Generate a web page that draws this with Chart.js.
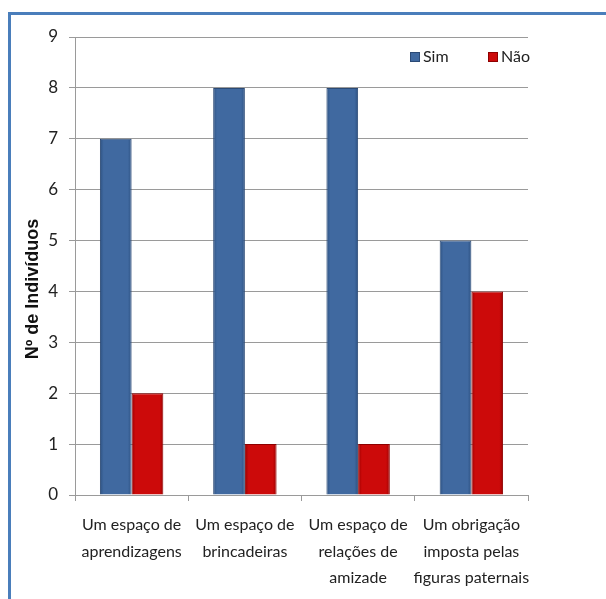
<!DOCTYPE html>
<html>
<head>
<meta charset="utf-8">
<script src="https://cdn.jsdelivr.net/npm/chart.js@4/dist/chart.umd.min.js"></script>
<style>
  html, body { margin: 0; padding: 0; background: #ffffff; }
  #wrap { width: 606px; height: 599px; }
</style>
</head>
<body>
<div id="wrap"><canvas id="c" width="606" height="599"></canvas></div>
<script>
const categories = [
  ["Um espaço de", "aprendizagens"],
  ["Um espaço de", "brincadeiras"],
  ["Um espaço de", "relações de", "amizade"],
  ["Um obrigação", "imposta pelas", "figuras paternais"]
];
const simValues = [7, 8, 8, 5];
const naoValues = [2, 1, 1, 4];
const yTicks = [0, 1, 2, 3, 4, 5, 6, 7, 8, 9];
const yTitle = 'Nº de Indivíduos';

const FONT = "Lato, 'Open Sans', sans-serif";
const CAT_PCT = 0.56;

// Horizontal shading across each bar: darker edges, lighter middle
function barShade(edge, mid) {
  return function (context) {
    const chart = context.chart;
    const xScale = chart.scales.x;
    if (!chart.chartArea || !xScale || context.dataIndex === undefined) return mid;
    const catW = (xScale.right - xScale.left) / chart.data.labels.length;
    const w = catW * CAT_PCT / 2;
    const center = xScale.getPixelForValue(context.dataIndex);
    const left = context.datasetIndex === 0 ? center - w : center;
    const g = chart.ctx.createLinearGradient(left, 0, left + w, 0);
    g.addColorStop(0, edge);
    g.addColorStop(0.12, mid);
    g.addColorStop(0.88, mid);
    g.addColorStop(1, edge);
    return g;
  };
}

// Blue frame along the top and left edges of the canvas
const framePlugin = {
  id: 'frame',
  beforeDraw(chart) {
    const ctx = chart.ctx;
    ctx.save();
    ctx.fillStyle = '#4a7ebb';
    ctx.fillRect(8, 12, chart.width - 8, 3);
    ctx.fillRect(8, 12, 3, chart.height - 12);
    ctx.restore();
  }
};

// Vertical axis title, rotated, sitting a little below the axis middle
const axisTitle = {
  id: 'axisTitle',
  afterDraw(chart) {
    const ctx = chart.ctx;
    const area = chart.chartArea;
    ctx.save();
    ctx.translate(33, (area.top + area.bottom) / 2 + 23);
    ctx.rotate(-Math.PI / 2);
    ctx.font = "bold 18px 'Liberation Sans', Arial, sans-serif";
    ctx.fillStyle = '#111111';
    ctx.textAlign = 'center';
    ctx.textBaseline = 'middle';
    ctx.fillText(yTitle, 0, 0);
    ctx.restore();
  }
};

// Legend drawn inside the plot, top right
const insideLegend = {
  id: 'insideLegend',
  afterDatasetsDraw(chart) {
    const ctx = chart.ctx;
    const area = chart.chartArea;
    const starts = [area.right - 118, area.right - 40];
    const swatch = ['#4069a0', '#cc0a0a'];
    const y = area.top + 20;
    ctx.save();
    ctx.font = "16px " + FONT;
    ctx.textBaseline = 'middle';
    chart.data.datasets.forEach((ds, i) => {
      const x = starts[i];
      ctx.fillStyle = swatch[i];
      ctx.fillRect(x, y - 5, 10, 10);
      ctx.strokeStyle = ds.borderColor;
      ctx.lineWidth = 1;
      ctx.strokeRect(x + 0.5, y - 4.5, 9, 9);
      ctx.fillStyle = '#222222';
      ctx.fillText(ds.label, x + 13, y);
    });
    ctx.restore();
  }
};

new Chart(document.getElementById('c'), {
  type: 'bar',
  data: {
    labels: categories,
    datasets: [
      {
        label: 'Sim',
        data: simValues,
        backgroundColor: barShade('#2e5282', '#4069a0'),
        borderColor: '#2b4a76',
        borderWidth: 1,
        borderSkipped: 'bottom',
        categoryPercentage: CAT_PCT,
        barPercentage: 1.0
      },
      {
        label: 'Não',
        data: naoValues,
        backgroundColor: barShade('#9c0000', '#cc0a0a'),
        borderColor: '#8e0000',
        borderWidth: 1,
        borderSkipped: 'bottom',
        categoryPercentage: CAT_PCT,
        barPercentage: 1.0
      }
    ]
  },
  options: {
    responsive: false,
    animation: false,
    devicePixelRatio: 1,
    layout: { padding: { top: 37, right: 78, left: 0, bottom: 0 } },
    plugins: {
      legend: { display: false },
      tooltip: { enabled: false }
    },
    scales: {
      x: {
        offset: true,
        grid: {
          display: true,
          drawOnChartArea: false,
          offset: true,
          tickLength: 6,
          color: '#9a9a9a'
        },
        border: { display: true, color: '#9a9a9a' },
        ticks: {
          color: '#222222',
          font: { family: FONT, size: 16, lineHeight: 1.65 },
          padding: 11,
          maxRotation: 0,
          autoSkip: false
        },
        afterFit(scale) { scale.height = 104; }
      },
      y: {
        min: 0,
        max: 9,
        afterBuildTicks(scale) {
          scale.ticks = yTicks.map(v => ({ value: v }));
        },
        grid: {
          color: '#9a9a9a',
          tickLength: 6,
          lineWidth: 1
        },
        border: { display: true, color: '#9a9a9a' },
        ticks: {
          color: '#222222',
          font: { family: FONT, size: 17 },
          padding: 11
        },
        afterFit(scale) { scale.width = 75; }
      }
    }
  },
  plugins: [framePlugin, axisTitle, insideLegend]
});
</script>
</body>
</html>
